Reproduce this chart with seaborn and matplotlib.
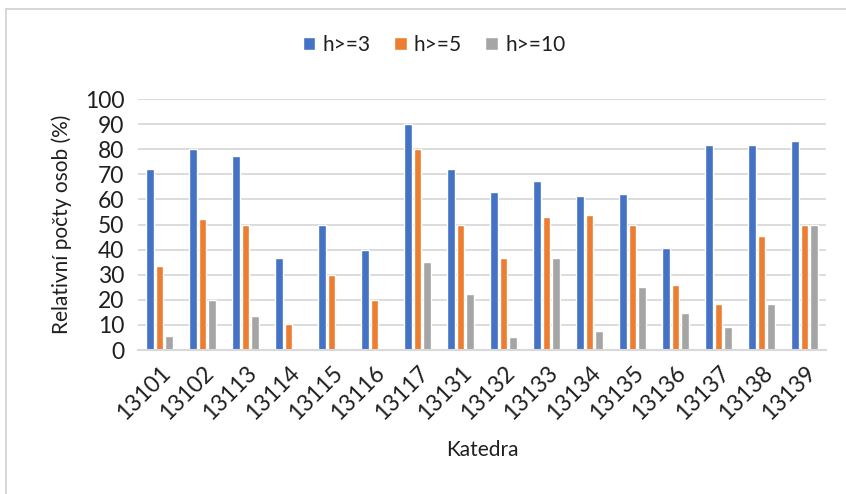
import matplotlib
matplotlib.use("Agg")
import matplotlib.pyplot as plt
import seaborn as sns
import pandas as pd
from matplotlib.patches import Rectangle

categories = ["13101", "13102", "13113", "13114", "13115", "13116", "13117", "13131",
              "13132", "13133", "13134", "13135", "13136", "13137", "13138", "13139"]
h3 = [72.2, 80.0, 77.3, 36.8, 50.0, 40.0, 90.0, 72.2, 63.0, 67.3, 61.5, 62.3, 40.5, 81.8, 81.8, 83.3]
h5 = [33.3, 52.0, 50.0, 10.5, 30.0, 20.0, 80.0, 50.0, 36.8, 53.0, 53.8, 50.0, 25.8, 18.2, 45.5, 50.0]
h10 = [5.6, 20.0, 13.6, 0.0, 0.0, 0.0, 35.0, 22.2, 5.3, 36.7, 7.7, 25.0, 14.8, 9.1, 18.2, 50.0]
series = ["h>=3", "h>=5", "h>=10"]
colors = ["#4472C4", "#ED7D31", "#A5A5A5"]

rows = []
for name, vals in zip(series, [h3, h5, h10]):
    for c, v in zip(categories, vals):
        rows.append({"Katedra": c, "value": v, "series": name})
df = pd.DataFrame(rows)

sns.set_theme(style="white")
plt.rcParams["font.family"] = ["Lato", "DejaVu Sans"]

FS = 15
TFS = 16.5
TXT = "#1f1f1f"

fig = plt.figure(figsize=(8.46, 4.94), dpi=100)
ax = fig.add_axes([138/846, 1-350/494, (826-138)/846, (350-99)/494])

sns.barplot(data=df, x="Katedra", y="value", hue="series", order=categories,
            hue_order=series, palette=colors, width=0.675, gap=0.2,
            saturation=1, ax=ax, legend=True, errorbar=None)

ax.set_ylim(0, 100)
ax.set_xlim(-0.5, len(categories) - 0.5)
ax.set_yticks(range(0, 101, 10))
ax.set_xticks(range(len(categories)), categories, rotation=45, ha="right",
              rotation_mode="anchor")
ax.yaxis.grid(True, color="#d9d9d9", linewidth=1.3)
ax.set_axisbelow(True)
for s in ["top", "right", "left"]:
    ax.spines[s].set_visible(False)
ax.spines["bottom"].set_color("#d9d9d9")
ax.spines["bottom"].set_linewidth(1.5)
ax.tick_params(axis="both", length=0, labelsize=TFS, colors=TXT)
ax.tick_params(axis="y", pad=10)
ax.tick_params(axis="x", pad=9)

ax.set_xlabel("Katedra", fontsize=FS, color=TXT, labelpad=11)
ax.set_ylabel("Relativní počty osob (%)", fontsize=15, color=TXT, labelpad=9)

leg = ax.legend(loc="center", bbox_to_anchor=(434/846, 1-45/494), bbox_transform=fig.transFigure,
                ncol=3, frameon=False, fontsize=FS, handlelength=0.62, handleheight=0.62,
                handletextpad=0.35, columnspacing=1.1)
for t in leg.get_texts():
    t.set_color(TXT)

fig.patches.append(Rectangle((6/846, -0.1), 1.1, 1 - 9/494 + 0.1, transform=fig.transFigure,
                             fill=False, edgecolor="#d0d0d0", linewidth=1.2))

fig.savefig("out.png", dpi=100)
